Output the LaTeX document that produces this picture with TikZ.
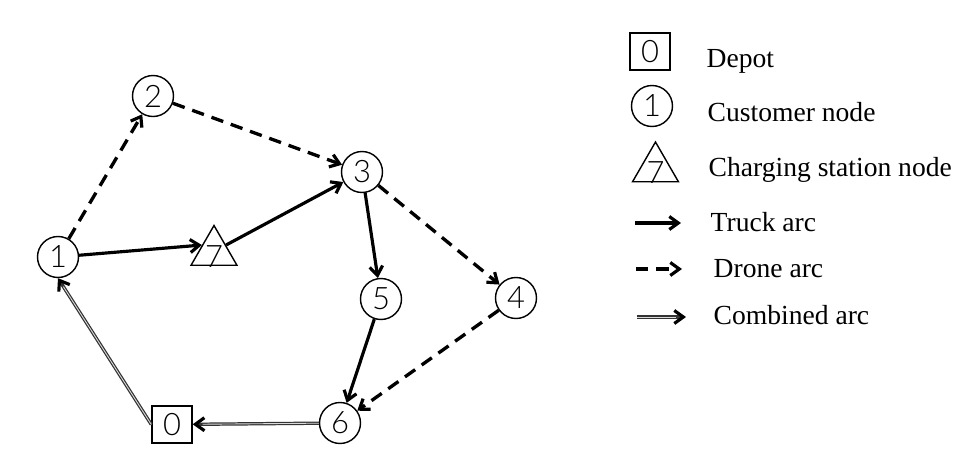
\documentclass[tikz,border=0pt]{standalone}
\usepackage{fontspec}
\setmainfont{Liberation Serif}
\newfontfamily\digitfont{Lato Light}
\usetikzlibrary{arrows.meta}
\usetikzlibrary{shapes.geometric}

\begin{document}
\begin{tikzpicture}
        \useasboundingbox (0, 0) rectangle (9.57, 4.55);
        \begin{scope}[
            >={Straight Barb[black,length=0.9mm,width=1.3mm,line width=0.9pt]},
            custnode/.style={circle,draw,line width=0.4pt,minimum size=4.1mm,inner sep=0pt,font=\digitfont\fontsize{8.8}{9}\selectfont},
            depotnode/.style={rectangle,draw,line width=0.4pt,minimum width=4mm,minimum height=3.7mm,inner sep=0pt,font=\digitfont\fontsize{8.8}{9}\selectfont},
            stationnode/.style={regular polygon,regular polygon sides=3,draw,line width=0.4pt,minimum size=5.3mm,inner sep=0pt,font=\digitfont\fontsize{8.8}{9}\selectfont},
            legendtext/.style={anchor=base west,inner sep=0pt,font=\fontsize{7.85}{9}\selectfont},
            truckarc/.style={->,line width=0.9pt},
            dronearc/.style={->,line width=0.95pt,dash pattern=on 1.25mm off 0.8mm},
            combinedarc/.style={->,draw=black!80,line width=0.95pt,postaction={draw=white!85!black,line width=0.25pt,-,shorten >=1mm}}
            ]
            % route
            \node [custnode] (n1) at (0.58, 1.98) {1};
            \node [custnode] (n2) at (1.53, 3.59) {2};
            \node [custnode] (n3) at (3.62, 2.83) {3};
            \node [custnode] (n4) at (5.16, 1.57) {4};
            \node [custnode] (n5) at (3.81, 1.56) {5};
            \node [custnode] (n6) at (3.40, 0.32) {6};
            \node [depotnode] (n0) at (1.72, 0.305) {0};
            \node [stationnode] (n7) at (2.14, 2.03) {\raisebox{-1.5mm}[0pt][0pt]{7}};
            \path [dronearc] (n1) edge (n2);
            \path [dronearc] (n2) edge (n3);
            \path [dronearc] (n3) edge (n4);
            \path [dronearc] (n4) edge (n6);
            \path [truckarc] (n1) edge (n7.side 1);
            \path [truckarc] (n7.side 3) edge (n3);
            \path [truckarc] (n3) edge (n5);
            \path [truckarc] (n5) edge (n6);
            \draw [combinedarc] (n6) -- (n0);
            \draw [combinedarc] (n0.west) -- (n1.south);
            % legend
            \node [depotnode] (keydepot) at (6.50, 4.035) {0};
            \node [custnode] (keycust) at (6.52, 3.49) {1};
            \node [stationnode] (keystation) at (6.555, 2.865) {\raisebox{-1.5mm}[0pt][0pt]{7}};
            \coordinate (truckA) at (6.35, 2.32);
            \coordinate (truckB) at (6.81, 2.32);
            \coordinate (droneA) at (6.36, 1.86);
            \coordinate (droneB) at (6.82, 1.86);
            \coordinate (combA) at (6.37, 1.38);
            \coordinate (combB) at (6.86, 1.38);
            \path [truckarc] (truckA) edge (truckB);
            \path [dronearc] (droneA) edge (droneB);
            \draw [combinedarc] (combA) -- (combB);
            \node [legendtext] (txtdepot) at (7.06, 3.88) {Depot};
            \node [legendtext] (txtcust) at (7.07, 3.34) {Customer node};
            \node [legendtext] (txtstation) at (7.08, 2.79) {Charging station node};
            \node [legendtext] (txttruck) at (7.10, 2.24) {Truck arc};
            \node [legendtext] (txtdrone) at (7.13, 1.78) {Drone arc};
            \node [legendtext] (txtcomb) at (7.13, 1.31) {Combined arc};
        \end{scope}
    \end{tikzpicture}
\end{document}
